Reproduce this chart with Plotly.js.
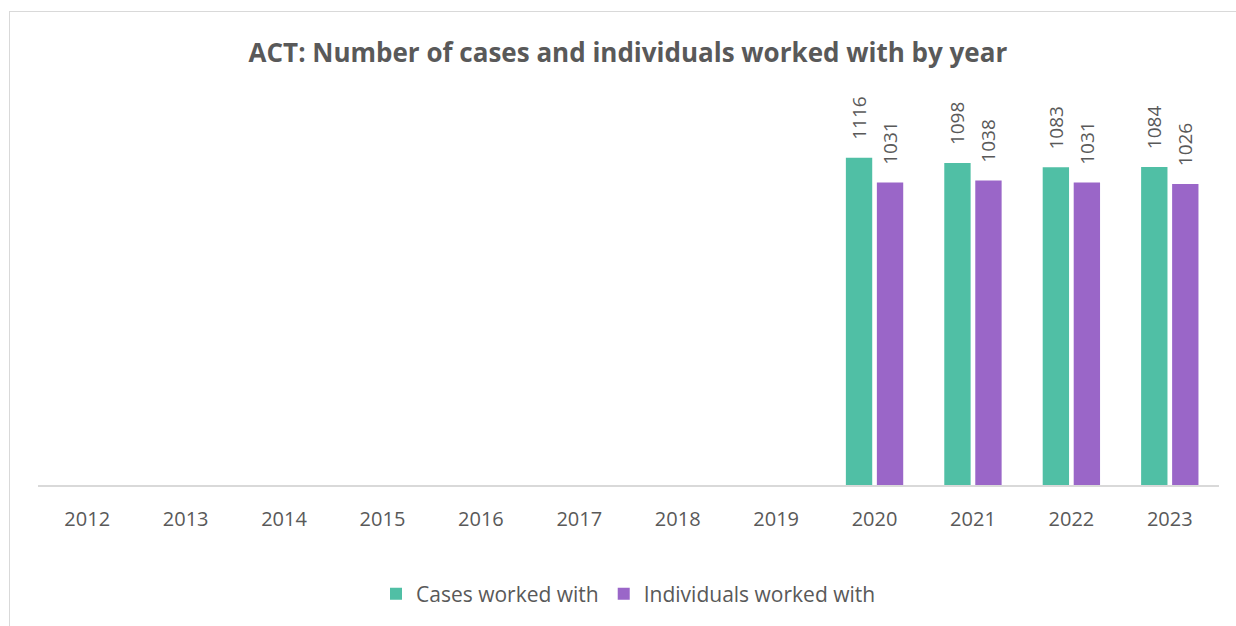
<!DOCTYPE html>
<html>
<head>
<meta charset="utf-8">
<script src="https://cdn.plot.ly/plotly-3.0.1.min.js"></script>
<style>
  html, body { margin: 0; padding: 0; background: #fff; }
  #wrap { position: relative; width: 1236px; height: 626px; }
  #chart { width: 1236px; height: 626px; }
  #frame { position: absolute; left: 9px; top: 11px; width: 1240px; height: 640px;
           border-left: 1.5px solid #d9d9d9; border-top: 1.5px solid #d9d9d9; pointer-events: none; }
</style>
</head>
<body>
<div id="wrap">
  <div id="chart"></div>
  <div id="frame"></div>
</div>
<script>
const years = ['2012','2013','2014','2015','2016','2017','2018','2019','2020','2021','2022','2023'];
const casesWorkedWith = [null,null,null,null,null,null,null,null,1116,1098,1083,1084];
const individualsWorkedWith = [null,null,null,null,null,null,null,null,1031,1038,1031,1026];
const seriesNames = ['Cases worked with','Individuals worked with'];
const titleText = 'ACT: Number of cases and individuals worked with by year';

const textColor = '#595959';
const font = 'Open Sans, sans-serif';

function labels(arr) { return arr.map(v => v == null ? '' : '\u00a0\u00a0\u00a0' + v); }

const traces = [
  { type: 'bar', name: seriesNames[0], x: years, y: casesWorkedWith,
    marker: { color: '#50BFA5' }, text: labels(casesWorkedWith), textposition: 'outside',
    textangle: -90, cliponaxis: false, constraintext: 'none',
    textfont: { family: font, size: 19, color: textColor }, hoverinfo: 'x+y' },
  { type: 'bar', name: seriesNames[1], x: years, y: individualsWorkedWith,
    marker: { color: '#9A66C8' }, text: labels(individualsWorkedWith), textposition: 'outside',
    textangle: -90, cliponaxis: false, constraintext: 'none',
    textfont: { family: font, size: 19, color: textColor }, hoverinfo: 'x+y' }
];

const layout = {
  width: 1236, height: 626,
  paper_bgcolor: '#ffffff', plot_bgcolor: '#ffffff',
  margin: { l: 38, r: 17, t: 133, b: 139 },
  title: { text: '<b>' + titleText + '</b>', x: 0.508, xanchor: 'center', y: 0.916, yanchor: 'middle',
           font: { family: font, size: 26, color: textColor } },
  barmode: 'group', bargap: 0.37, bargroupgap: 0.15,
  xaxis: { type: 'category', showline: true, linecolor: '#d9d9d9', linewidth: 1.5,
           ticks: '', ticklabelstandoff: 15, tickfont: { family: font, size: 20, color: textColor },
           showgrid: false, fixedrange: true },
  yaxis: { range: [0, 1200], visible: false, showgrid: false, zeroline: false, fixedrange: true },
  showlegend: true,
  legend: { orientation: 'h', x: 0.5, xanchor: 'center', y: -0.31, yanchor: 'middle',
            font: { family: font, size: 21, color: textColor }, itemwidth: 30, traceorder: 'normal' },
  font: { family: font, color: textColor }
};

Plotly.newPlot('chart', traces, layout, { displayModeBar: false, staticPlot: true });
</script>
</body>
</html>
